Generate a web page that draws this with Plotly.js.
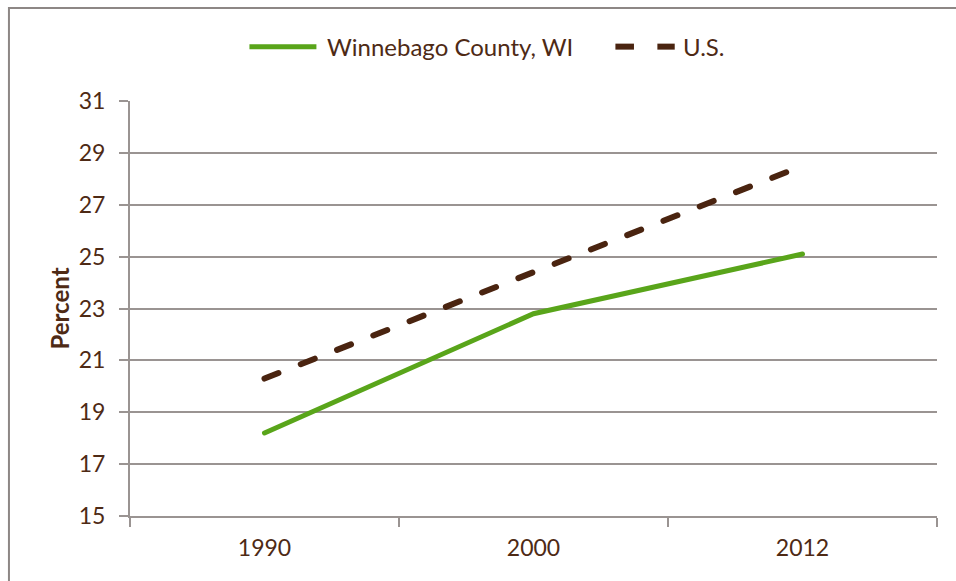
<!DOCTYPE html>
<html>
<head>
<meta charset="utf-8">
<script src="https://cdn.plot.ly/plotly-3.0.1.min.js"></script>
<style>
  html, body { margin: 0; padding: 0; background: #ffffff; }
  #chart { width: 956px; height: 581px; }
  .scatterlayer .js-line { stroke-linecap: round; }
</style>
</head>
<body>
<div id="chart"></div>
<script>
// ---- data ----
const years = ['1990', '2000', '2012'];
const seriesNames = ['Winnebago County, WI', 'U.S.'];
const winnebago = [18.2, 22.8, 25.1];
const us = [20.3, 24.4, 28.5];
const yTicks = [15, 17, 19, 21, 23, 25, 27, 29, 31];

// ---- styles ----
const GREEN = '#59a51a';
const BROWN = '#4a2410';
const TEXT = '#4e2a15';
const GRID = '#9a9492';
const FONT = 'Lato, "Open Sans", sans-serif';

const traces = [
  { x: years, y: winnebago, name: seriesNames[0], type: 'scatter', mode: 'lines',
    line: { color: GREEN, width: 5 }, hoverinfo: 'x+y+name' },
  { x: years, y: us, name: seriesNames[1], type: 'scatter', mode: 'lines',
    line: { color: BROWN, width: 6, dash: '15px,24px' }, hoverinfo: 'x+y+name' }
];

// legend drawn in paper coordinates
const ly = 1.131;
const shapes = [
  // outer border (left + top visible)
  { type: 'rect', xref: 'paper', yref: 'paper', x0: -0.15, x1: 1.06, y0: -0.2, y1: 1.224,
    line: { color: '#8d8785', width: 2 }, fillcolor: 'rgba(0,0,0,0)', layer: 'below' },
  { type: 'line', xref: 'paper', yref: 'paper', x0: 0.148, x1: 0.231, y0: ly, y1: ly,
    line: { color: GREEN, width: 5 } },
  { type: 'line', xref: 'paper', yref: 'paper', x0: 0.6015, x1: 0.6245, y0: ly, y1: ly,
    line: { color: BROWN, width: 6 } },
  { type: 'line', xref: 'paper', yref: 'paper', x0: 0.6535, x1: 0.675, y0: ly, y1: ly,
    line: { color: BROWN, width: 6 } }
];
const annotations = [
  { xref: 'paper', yref: 'paper', x: 0.242, y: ly, xanchor: 'left', yanchor: 'middle',
    text: seriesNames[0], showarrow: false, font: { family: FONT, size: 24, color: TEXT } },
  { xref: 'paper', yref: 'paper', x: 0.683, y: ly, xanchor: 'left', yanchor: 'middle',
    text: seriesNames[1], showarrow: false, font: { family: FONT, size: 24, color: TEXT } }
];

const layout = {
  width: 956, height: 581,
  margin: { l: 130, r: 19, t: 101, b: 65 },
  paper_bgcolor: '#ffffff', plot_bgcolor: '#ffffff',
  showlegend: false,
  font: { family: FONT, color: TEXT, size: 23 },
  xaxis: {
    type: 'category', categoryorder: 'array', categoryarray: years,
    range: [-0.5, 2.5], tickson: 'boundaries', showgrid: false,
    showline: true, linecolor: GRID, linewidth: 2,
    ticks: 'outside', ticklen: 9, tickwidth: 2, tickcolor: GRID,
    ticklabelstandoff: 10,
    tickfont: { family: FONT, size: 23, color: TEXT }, fixedrange: true
  },
  yaxis: {
    range: [15, 31], tickmode: 'array', tickvals: yTicks, ticktext: yTicks.map(String),
    showgrid: true, gridcolor: GRID, gridwidth: 2, zeroline: false,
    showline: true, linecolor: GRID, linewidth: 2,
    ticks: 'outside', ticklen: 9, tickwidth: 2, tickcolor: GRID,
    ticklabelstandoff: 9,
    tickfont: { family: FONT, size: 23, color: TEXT },
    title: { text: '<b>Percent</b>', font: { family: FONT, size: 24, color: TEXT }, standoff: 2 },
    fixedrange: true
  },
  shapes: shapes,
  annotations: annotations
};

Plotly.newPlot('chart', traces, layout, { displayModeBar: false, staticPlot: true });
</script>
</body>
</html>
